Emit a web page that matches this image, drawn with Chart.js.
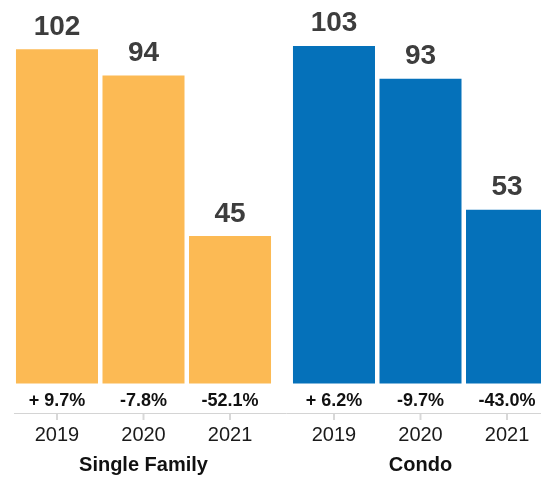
<!DOCTYPE html>
<html>
<head>
<meta charset="utf-8">
<script src="https://cdn.jsdelivr.net/npm/chart.js@4/dist/chart.umd.min.js"></script>
<style>
  html, body { margin: 0; padding: 0; background: #fff; overflow: hidden; }
  #wrap { width: 541px; height: 480px; overflow: hidden; }
</style>
</head>
<body>
<div id="wrap">
  <canvas id="myChart" width="560" height="480"></canvas>
</div>
<script>
const groups = ['Single Family', 'Condo'];
const years = ['2019', '2020', '2021'];
const singleFamily = [102, 94, 45];
const condo = [103, 93, 53];
const singleFamilyChange = ['+ 9.7%', '-7.8%', '-52.1%'];
const condoChange = ['+ 6.2%', '-9.7%', '-43.0%'];
const groupColors = ['#fcba54', '#0571ba'];

const FONT = '"Liberation Sans", Arial, Helvetica, sans-serif';

// bar labels, change %, year ticks and the bottom line
const barLabels = {
    id: 'barLabels',
    afterDatasetsDraw(chart) {
        const ctx = chart.ctx;
        const area = chart.chartArea;
        const axisY = area.bottom;
        const changes = [singleFamilyChange, condoChange];

        const first = chart.getDatasetMeta(0).data[0];
        ctx.save();
        ctx.strokeStyle = '#d4d4d4';
        ctx.lineWidth = 1;
        ctx.beginPath();
        ctx.moveTo(first.x - first.width / 2 - 2, axisY + 0.5);
        ctx.lineTo(area.right, axisY + 0.5);
        ctx.stroke();

        chart.data.datasets.forEach((ds, i) => {
            const meta = chart.getDatasetMeta(i);
            meta.data.forEach((bar, j) => {
                // tick
                ctx.strokeStyle = '#d8d8d8';
                ctx.lineWidth = 2;
                ctx.beginPath();
                ctx.moveTo(bar.x, axisY + 1);
                ctx.lineTo(bar.x, axisY + 7);
                ctx.stroke();

                ctx.textAlign = 'center';

                // value
                ctx.fillStyle = '#3d3d3d';
                ctx.font = 'bold 28px ' + FONT;
                ctx.textBaseline = 'alphabetic';
                ctx.fillText(ds.data[j], bar.x, bar.y - 14.5);

                // change
                ctx.fillStyle = '#111';
                ctx.font = 'bold 18px ' + FONT;
                ctx.textBaseline = 'middle';
                ctx.fillText(changes[j][i], bar.x, axisY - 12);

                // year
                ctx.fillStyle = '#1a1a1a';
                ctx.font = '20px ' + FONT;
                ctx.fillText(years[i], bar.x, axisY + 22);
            });
        });
        ctx.restore();
    }
};

const renderChart = () => {
    const ctx = document.getElementById('myChart');

    new Chart(ctx, {
        type: 'bar',
        data: {
            labels: groups,
            datasets: years.map((yr, i) => ({
                label: yr,
                data: [singleFamily[i], condo[i]],
                backgroundColor: groupColors,
                borderWidth: 0,
                categoryPercentage: 0.937,
                barPercentage: 0.948
            }))
        },
        options: {
            responsive: false,
            animation: false,
            events: [],
            layout: { padding: { left: 5, right: 1, top: 0, bottom: 3 } },
            plugins: {
                legend: { display: false },
                tooltip: { enabled: false }
            },
            scales: {
                y: {
                    display: false,
                    min: -9,
                    max: 117
                },
                x: {
                    border: { display: false },
                    grid: { display: false, drawTicks: false },
                    afterFit: (scale) => { scale.height = 64; },
                    ticks: {
                        padding: 40,
                        color: '#111',
                        font: { family: FONT, size: 20, weight: 'bold' }
                    }
                }
            }
        },
        plugins: [barLabels]
    });
};

renderChart();
</script>
</body>
</html>
